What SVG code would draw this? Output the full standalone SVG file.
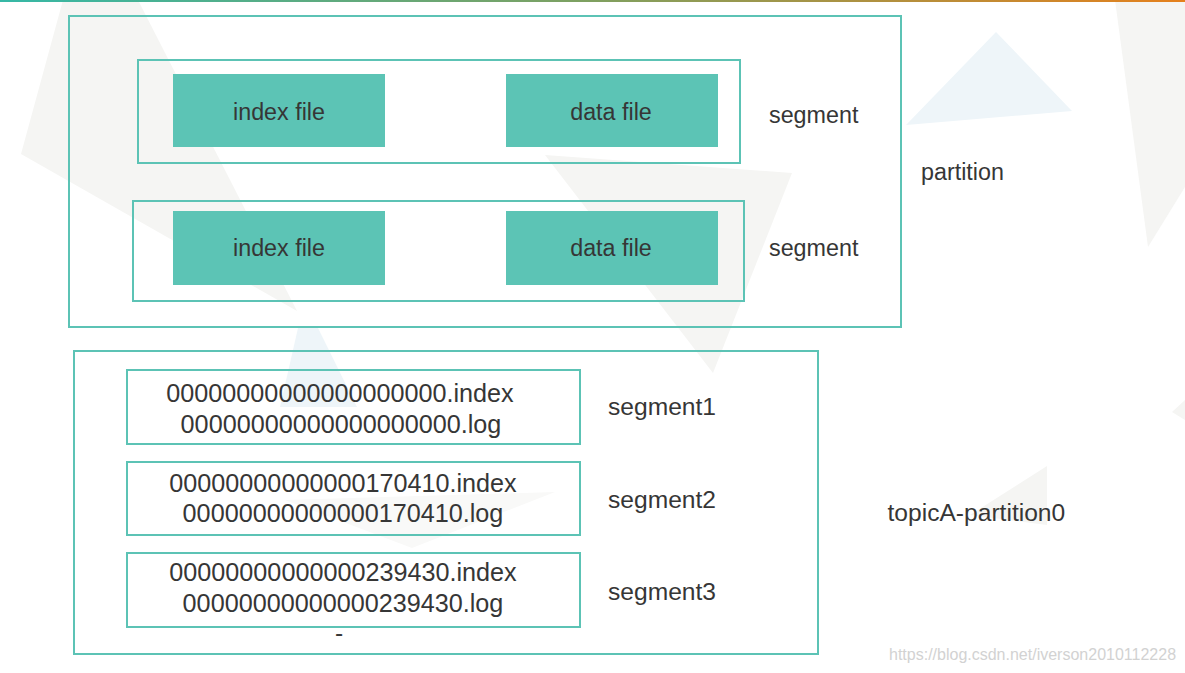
<svg xmlns="http://www.w3.org/2000/svg" width="1185" height="673" viewBox="0 0 1185 673">
  <defs>
    <linearGradient id="topbar" x1="0" y1="0" x2="1" y2="0">
      <stop offset="0" stop-color="#36b8a6"/>
      <stop offset="0.5" stop-color="#7fa060"/>
      <stop offset="1" stop-color="#e5801c"/>
    </linearGradient>
  </defs>
  <style>
    .bg-gray { fill: #f5f5f3; }
    .bg-faint { fill: #f9f9f8; }
    .bg-blue { fill: #eef5f9; }
    .frame { fill: none; stroke: #5cc3b5; stroke-width: 2; }
    .file { fill: #5cc4b5; }
    .t { font-family: "Liberation Sans", Arial, Helvetica, sans-serif; fill: #363636; }
    .up { font-size: 23.3px; }
    .low { font-size: 24.6px; }
    .fn { font-size: 25.2px; }
    .mid { text-anchor: middle; }
    .wm { font-family: "Liberation Sans", Arial, Helvetica, sans-serif; font-size: 16px; fill: #d2d2d2; }
  </style>
  <rect x="0" y="0" width="1185" height="673" fill="#ffffff"/>
  <g id="background">
    <polygon class="bg-gray" points="63,0 138,0 297,311 21,154"/>
    <polygon class="bg-gray" points="545,155 792,173 713,373"/>
    <polygon class="bg-blue" points="996,32 906,125 1072,111"/>
    <polygon class="bg-gray" points="1115,0 1185,0 1185,187 1148,247"/>
    <polygon class="bg-blue" points="298,328 318,328 357,407 280,407"/>
    <polygon class="bg-faint" points="285,500 555,492 412,548"/>
    <polygon class="bg-gray" points="1047,466 970,515 1047,525"/>
    <polygon class="bg-gray" points="1185,400 1172,412 1185,420"/>
    <rect x="0" y="0" width="1185" height="2" fill="url(#topbar)"/>
  </g>
  <g id="partition">
    <rect class="frame" x="69" y="16" width="832" height="311"/>
    <text class="t up" x="921" y="180">partition</text>
  </g>
  <g id="segment-a">
    <rect class="frame" x="138" y="60" width="602" height="103"/>
    <text class="t up" x="769" y="123">segment</text>
  </g>
  <g id="index-file-a">
    <rect class="file" x="173" y="74" width="212" height="73"/>
    <text class="t up mid" x="279" y="119.5">index file</text>
  </g>
  <g id="data-file-a">
    <rect class="file" x="506" y="74" width="212" height="73"/>
    <text class="t up mid" x="611" y="119.5">data file</text>
  </g>
  <g id="segment-b">
    <rect class="frame" x="133" y="201" width="611" height="100"/>
    <text class="t up" x="769" y="255.5">segment</text>
  </g>
  <g id="index-file-b">
    <rect class="file" x="173" y="211" width="212" height="74"/>
    <text class="t up mid" x="279" y="256">index file</text>
  </g>
  <g id="data-file-b">
    <rect class="file" x="506" y="211" width="212" height="74"/>
    <text class="t up mid" x="611" y="256">data file</text>
  </g>
  <g id="topicA-partition0">
    <rect class="frame" x="74" y="351" width="744" height="303"/>
    <text class="t low" x="887.5" y="521">topicA-partition0</text>
    <text class="t low mid" x="339" y="641">-</text>
  </g>
  <g id="segment1">
    <rect class="frame" x="127" y="370" width="453" height="74"/>
    <text class="t fn mid" x="340" y="402">00000000000000000000.index</text>
    <text class="t fn mid" x="341" y="433">00000000000000000000.log</text>
    <text class="t low" x="608" y="415">segment1</text>
  </g>
  <g id="segment2">
    <rect class="frame" x="127" y="462" width="453" height="73"/>
    <text class="t fn mid" x="343" y="492">00000000000000170410.index</text>
    <text class="t fn mid" x="343" y="522">00000000000000170410.log</text>
    <text class="t low" x="608" y="507.5">segment2</text>
  </g>
  <g id="segment3">
    <rect class="frame" x="127" y="553" width="453" height="74"/>
    <text class="t fn mid" x="343" y="580.5">00000000000000239430.index</text>
    <text class="t fn mid" x="343" y="611.5">00000000000000239430.log</text>
    <text class="t low" x="608" y="599.5">segment3</text>
  </g>
  <g id="connectors"/>
  <text class="wm" x="889" y="660">https://blog.csdn.net/iverson2010112228</text>
</svg>
